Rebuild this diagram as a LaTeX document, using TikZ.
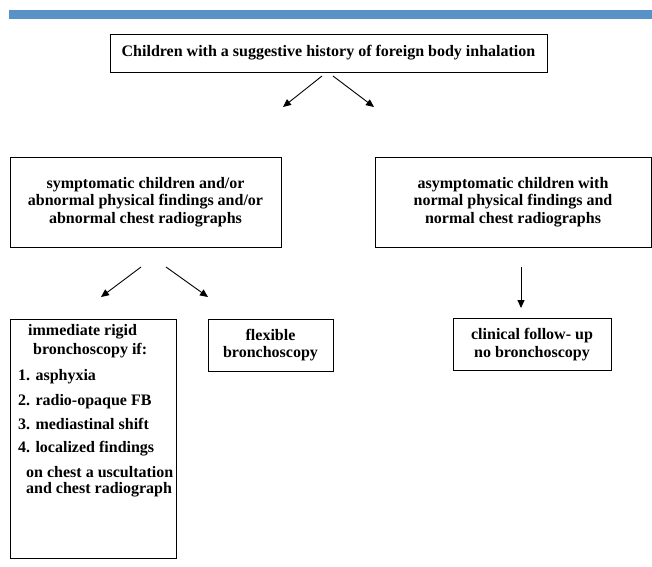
\documentclass[tikz,border=0pt]{standalone}
\usepackage{fontspec}
\setmainfont{Liberation Serif}
\usetikzlibrary{arrows.meta}
\definecolor{barblue}{RGB}{89,146,199}
\begin{document}
\begin{tikzpicture}[x=1pt,y=-1pt,
  lbl/.style={font=\bfseries\fontsize{16}{17.5}\selectfont},
  box/.style={lbl,draw=black,line width=0.9pt,inner sep=0pt,align=center},
  txt/.style={lbl,inner sep=0pt,anchor=mid west},
  arr/.style={line width=0.9pt,-{Triangle[length=8pt,width=7pt]}}]
\useasboundingbox (0,0) rectangle (652,566);
\fill[barblue] (9,10) rectangle (652,19);
% boxes
\node[box,minimum width=437pt,minimum height=38pt] (top) at (328.5,53)
  {Children with a suggestive history of foreign body inhalation};
\node[box,minimum width=271pt,minimum height=90pt] (symp) at (145.5,202)
  {symptomatic children and/or\\abnormal physical findings and/or\\abnormal chest radiographs};
\node[box,minimum width=276pt,minimum height=90pt] (asymp) at (513,202)
  {asymptomatic children with\\normal physical findings and\\normal chest radiographs};
\node[box,minimum width=166pt,minimum height=239pt] (rigid) at (93,438.5) {};
\node[box,minimum width=125pt,minimum height=52pt] (flex) at (270.5,345)
  {flexible\\bronchoscopy};
\node[box,minimum width=158pt,minimum height=52pt] (follow) at (532,344.5)
  {clinical follow- up\\no bronchoscopy};
% text of the rigid bronchoscopy box
\node[txt] (r1) at (28,333) {immediate rigid};
\node[txt] (r2) at (33,352) {bronchoscopy if:};
\node[txt] (r3) at (18,378) {1. asphyxia};
\node[txt] (r4) at (18,403) {2. radio-opaque FB};
\node[txt] (r5) at (18,427) {3. mediastinal shift};
\node[txt] (r6) at (18,450) {4. localized findings};
\node[txt] (r7) at (26,475) {on chest a uscultation};
\node[txt] (r8) at (26,491) {and chest radiograph};
% arrow end points
\coordinate (a1s) at (322,76);  \coordinate (a1e) at (283,107);
\coordinate (a2s) at (333,76);  \coordinate (a2e) at (374,107);
\coordinate (a3s) at (141,267); \coordinate (a3e) at (101,297);
\coordinate (a4s) at (166,267); \coordinate (a4e) at (208,297);
\coordinate (a5s) at (521,267); \coordinate (a5e) at (521,308);
\draw[arr] (a1s) -- (a1e);
\draw[arr] (a2s) -- (a2e);
\draw[arr] (a3s) -- (a3e);
\draw[arr] (a4s) -- (a4e);
\draw[arr] (a5s) -- (a5e);
\end{tikzpicture}
\end{document}
